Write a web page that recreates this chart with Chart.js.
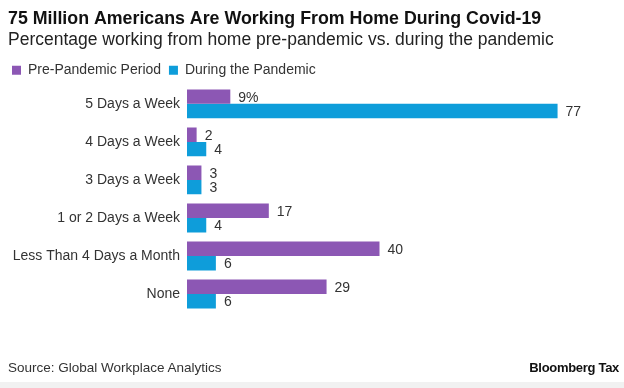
<!DOCTYPE html>
<html>
<head>
<meta charset="utf-8">
<script src="https://cdn.jsdelivr.net/npm/chart.js@4"></script>
<style>
  html, body { margin:0; padding:0; background:#fff; }
  #wrap { position:relative; width:624px; height:388px; overflow:hidden; }
  #c { position:absolute; left:0; top:0; }
  .foot { position:absolute; font-family:"Liberation Sans", Arial, sans-serif; color:#333; line-height:16px; }
  #src { left:8px; top:360px; font-size:13.5px; }
  #brand { right:5px; top:360px; font-size:13px; font-weight:bold; color:#111; letter-spacing:-0.3px; }
  #strip { position:absolute; left:0; top:382px; width:624px; height:6px; background:#f1f1f1; }
</style>
</head>
<body>
<div id="wrap">
  <canvas id="c" width="624" height="388"></canvas>
  <div class="foot" id="src">Source: Global Workplace Analytics</div>
  <div class="foot" id="brand">Bloomberg Tax</div>
  <div id="strip"></div>
</div>
<script>
const categories = ["5 Days a Week", "4 Days a Week", "3 Days a Week", "1 or 2 Days a Week", "Less Than 4 Days a Month", "None"];
const prePandemic = [9, 2, 3, 17, 40, 29];
const duringPandemic = [77, 4, 3, 4, 6, 6];
const seriesNames = ["Pre-Pandemic Period", "During the Pandemic"];
const titleText = "75 Million Americans Are Working From Home During Covid-19";
const subtitleText = "Percentage working from home pre-pandemic vs. during the pandemic";

const FONT = "'Liberation Sans', Arial, sans-serif";

const valueLabels = {
  id: 'valueLabels',
  afterDatasetsDraw(chart) {
    const ctx = chart.ctx;
    ctx.save();
    ctx.font = "14px " + FONT;
    ctx.fillStyle = "#333";
    ctx.textBaseline = "middle";
    ctx.textAlign = "left";
    chart.data.datasets.forEach((ds, di) => {
      const meta = chart.getDatasetMeta(di);
      meta.data.forEach((bar, i) => {
        let txt = String(ds.data[i]);
        if (di === 0 && i === 0) txt += "%";
        ctx.fillText(txt, bar.x + 8, bar.y + 1);
      });
    });
    ctx.restore();
  }
};

new Chart(document.getElementById('c'), {
  type: 'bar',
  data: {
    labels: categories,
    datasets: [
      { label: seriesNames[0], data: prePandemic, backgroundColor: "#8c57b4" },
      { label: seriesNames[1], data: duringPandemic, backgroundColor: "#0e9dda" }
    ]
  },
  options: {
    indexAxis: 'y',
    responsive: false,
    animation: false,
    devicePixelRatio: 1,
    layout: { padding: { left: 8, right: 52, top: 6, bottom: 75 } },
    datasets: { bar: { barPercentage: 1.0, categoryPercentage: 0.76 } },
    plugins: {
      title: {
        display: true, text: titleText, align: 'start', color: "#111",
        font: { family: FONT, size: 17.8, weight: 'bold' },
        padding: { top: 2, bottom: 0 }
      },
      subtitle: {
        display: true, text: subtitleText, align: 'start', color: "#222",
        font: { family: FONT, size: 17.5 },
        padding: { top: 0, bottom: 9 }
      },
      legend: {
        display: true, position: 'top', align: 'start', maxHeight: 25.5,
        labels: {
          boxWidth: 9, boxHeight: 9, font: { family: FONT, size: 14 }, color: "#333", padding: 4,
          generateLabels: (chart) => Chart.defaults.plugins.legend.labels.generateLabels(chart)
            .map(l => Object.assign(l, { text: l.text + ' ', lineWidth: 0 }))
        }
      },
      tooltip: { enabled: false }
    },
    scales: {
      x: { display: false, min: 0, max: 80 },
      y: {
        afterFit(s) { s.width = 179; },
        grid: { display: false, drawTicks: false }, border: { display: false },
        ticks: { font: { family: FONT, size: 14 }, color: "#333", padding: 7 }
      }
    }
  },
  plugins: [valueLabels]
});
</script>
</body>
</html>
